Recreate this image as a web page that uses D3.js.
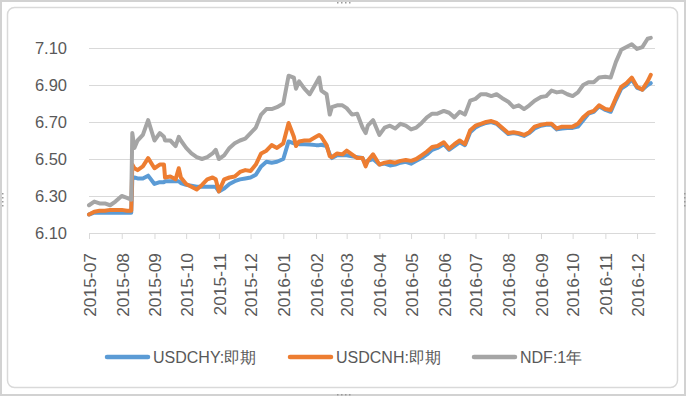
<!DOCTYPE html>
<html>
<head>
<meta charset="utf-8">
<script src="https://cdn.jsdelivr.net/npm/d3@7"></script>
<style>
body { margin: 0; background: #fff; }
svg text { font-family: "Liberation Sans", Arial, sans-serif; fill: #595959; }
</style>
</head>
<body>
<div class="graph"></div>
<script>
// daily-ish samples
const dates = [
  "2015-07-01","2015-07-06","2015-07-11","2015-07-16","2015-07-21","2015-07-26",
  "2015-08-01","2015-08-06","2015-08-10","2015-08-11","2015-08-13","2015-08-16","2015-08-21","2015-08-26",
  "2015-09-01","2015-09-06","2015-09-10","2015-09-11","2015-09-16","2015-09-21","2015-09-24","2015-09-26",
  "2015-10-01","2015-10-06","2015-10-11","2015-10-16","2015-10-21","2015-10-26","2015-10-29",
  "2015-11-01","2015-11-06","2015-11-11","2015-11-16","2015-11-21","2015-11-26",
  "2015-12-01","2015-12-06","2015-12-11","2015-12-16","2015-12-21","2015-12-26",
  "2016-01-01","2016-01-06","2016-01-11","2016-01-13","2016-01-16","2016-01-21","2016-01-26",
  "2016-02-01","2016-02-04","2016-02-06","2016-02-11","2016-02-14","2016-02-16","2016-02-21","2016-02-26",
  "2016-03-01","2016-03-06","2016-03-11","2016-03-16","2016-03-19","2016-03-21","2016-03-26",
  "2016-04-01","2016-04-06","2016-04-11","2016-04-16","2016-04-21","2016-04-26",
  "2016-05-01","2016-05-06","2016-05-11","2016-05-16","2016-05-21","2016-05-26",
  "2016-06-01","2016-06-06","2016-06-11","2016-06-16","2016-06-21","2016-06-26",
  "2016-07-01","2016-07-06","2016-07-11","2016-07-16","2016-07-21","2016-07-26",
  "2016-08-01","2016-08-06","2016-08-11","2016-08-16","2016-08-21","2016-08-26",
  "2016-09-01","2016-09-06","2016-09-11","2016-09-16","2016-09-21","2016-09-26",
  "2016-10-01","2016-10-06","2016-10-11","2016-10-16","2016-10-21","2016-10-26",
  "2016-11-01","2016-11-06","2016-11-11","2016-11-16","2016-11-21","2016-11-26",
  "2016-12-01","2016-12-06","2016-12-11","2016-12-14"
];

const usdchy = [
  6.20,6.21,6.21,6.21,6.21,6.21,
  6.21,6.21,6.21,6.39,6.40,6.395,6.395,6.41,
  6.365,6.375,6.375,6.38,6.38,6.38,6.38,6.37,
  6.36,6.355,6.35,6.35,6.35,6.35,6.35,
  6.325,6.34,6.365,6.38,6.39,6.395,
  6.40,6.415,6.46,6.485,6.48,6.485,
  6.50,6.595,6.585,6.585,6.58,6.58,6.578,
  6.575,6.575,6.577,6.57,6.525,6.505,6.52,6.52,
  6.52,6.515,6.51,6.505,6.47,6.49,6.50,
  6.47,6.475,6.465,6.47,6.48,6.485,
  6.475,6.49,6.505,6.525,6.55,6.56,
  6.58,6.55,6.57,6.59,6.575,6.645,
  6.67,6.685,6.695,6.70,6.69,6.665,
  6.635,6.64,6.635,6.625,6.64,6.665,
  6.68,6.685,6.685,6.66,6.665,6.668,
  6.668,6.675,6.71,6.745,6.755,6.785,
  6.765,6.755,6.82,6.88,6.90,6.93,
  6.885,6.875,6.90,6.91
];

const usdcnh = [
  6.20,6.215,6.22,6.22,6.225,6.225,
  6.225,6.22,6.22,6.47,6.45,6.44,6.46,6.505,
  6.45,6.47,6.47,6.40,6.405,6.39,6.45,6.40,
  6.365,6.35,6.335,6.36,6.39,6.40,6.39,
  6.325,6.39,6.40,6.405,6.43,6.44,
  6.435,6.47,6.53,6.545,6.575,6.56,
  6.585,6.695,6.62,6.57,6.595,6.60,6.60,
  6.62,6.63,6.62,6.575,6.515,6.51,6.53,6.525,
  6.545,6.525,6.505,6.505,6.46,6.49,6.525,
  6.47,6.48,6.485,6.48,6.49,6.495,
  6.49,6.50,6.52,6.54,6.565,6.57,
  6.59,6.555,6.58,6.60,6.58,6.655,
  6.68,6.69,6.70,6.705,6.695,6.67,
  6.64,6.645,6.64,6.63,6.645,6.675,
  6.685,6.69,6.69,6.665,6.675,6.675,
  6.675,6.69,6.725,6.75,6.76,6.79,
  6.77,6.765,6.83,6.89,6.91,6.94,
  6.89,6.875,6.92,6.955
];

const ndf = [
  6.25,6.27,6.26,6.26,6.25,6.27,
  6.30,6.29,6.28,6.64,6.56,6.60,6.63,6.71,
  6.60,6.64,6.62,6.60,6.60,6.57,6.62,6.60,
  6.56,6.53,6.51,6.50,6.51,6.53,6.55,
  6.50,6.52,6.56,6.585,6.60,6.61,
  6.64,6.67,6.74,6.77,6.77,6.78,
  6.80,6.95,6.94,6.88,6.92,6.88,6.85,
  6.91,6.94,6.87,6.85,6.74,6.78,6.79,6.79,
  6.775,6.74,6.745,6.67,6.64,6.68,6.71,
  6.63,6.67,6.68,6.665,6.69,6.68,
  6.66,6.67,6.695,6.725,6.745,6.745,
  6.76,6.75,6.725,6.755,6.74,6.815,
  6.825,6.85,6.85,6.84,6.85,6.83,
  6.81,6.78,6.79,6.77,6.79,6.815,
  6.835,6.84,6.87,6.86,6.865,6.85,
  6.84,6.86,6.90,6.915,6.915,6.94,
  6.945,6.94,7.025,7.09,7.105,7.12,
  7.095,7.105,7.15,7.155
];

const seriesNames = ["USDCHY:即期", "USDCNH:即期", "NDF:1年"];
const seriesColors = ["#5b9bd5", "#ed7d31", "#a5a5a5"];
const yTicks = [6.10, 6.30, 6.50, 6.70, 6.90, 7.10];
const monthTicks = ["2015-07","2015-08","2015-09","2015-10","2015-11","2015-12",
  "2016-01","2016-02","2016-03","2016-04","2016-05","2016-06",
  "2016-07","2016-08","2016-09","2016-10","2016-11","2016-12"];

const w = 687;
const h = 397;
const plotLeft = 89, plotRight = 655, plotTop = 29.5, plotBottom = 233;

const parseDay = d3.timeParse("%Y-%m-%d");
const parseMonth = d3.timeParse("%Y-%m");

const xScale = d3.scaleTime()
                 .domain([parseDay("2015-07-01"), parseDay("2016-12-18")])
                 .range([plotLeft, plotRight]);

const yScale = d3.scaleLinear()
                 .domain([6.1, 7.2])
                 .range([plotBottom, plotTop]);

const svg = d3.select(".graph")
              .append("svg")
              .attr("width", w)
              .attr("height", h);

// outer frame + chart area
svg.append("rect")
   .attr("x", 1).attr("y", 1).attr("width", w - 3).attr("height", h - 3)
   .attr("fill", "#fff").attr("stroke", "#d2d2d2").attr("stroke-width", 2);

svg.append("rect")
   .attr("x", 7.5).attr("y", 7.5).attr("width", 670).attr("height", 380)
   .attr("rx", 7).attr("fill", "#fff").attr("stroke", "#d9d9d9").attr("stroke-width", 1.5);

// little resize handles on the frame
const handles = [[337, 2, 1], [337, 394, 1], [2, 193, 0], [684, 193, 0]];
handles.forEach(([hx, hy, horiz]) => {
  for (let k = 0; k < 4; k++) {
    svg.append("rect")
       .attr("x", horiz ? hx + k * 4 : hx)
       .attr("y", horiz ? hy : hy + k * 4)
       .attr("width", 1.5).attr("height", 1.5)
       .attr("fill", "#9a9a9a");
  }
});

// y gridlines + labels
const yAxis = d3.axisLeft(yScale)
                .tickValues(yTicks)
                .tickSize(-(plotRight - plotLeft))
                .tickPadding(22)
                .tickFormat(d3.format(".2f"));

const gy = svg.append("g")
              .attr("transform", "translate(" + plotLeft + ",0)")
              .call(yAxis);
gy.select(".domain").remove();
gy.selectAll("line").attr("stroke", "#d9d9d9");
gy.selectAll("text").attr("font-size", "16.5px").attr("fill", "#595959");

// x axis
const xAxis = d3.axisBottom(xScale)
                .tickValues(monthTicks.map(parseMonth))
                .tickFormat(d3.timeFormat("%Y-%m"))
                .tickSize(6)
                .tickSizeOuter(0);

const gx = svg.append("g")
              .attr("transform", "translate(0," + plotBottom + ")")
              .call(xAxis);
gx.select(".domain").attr("stroke", "#d9d9d9");
gx.selectAll("line").attr("stroke", "#d9d9d9");
gx.selectAll("text")
  .attr("font-size", "17.4px")
  .attr("fill", "#595959")
  .attr("text-anchor", "end")
  .attr("transform", "rotate(-90)")
  .attr("x", -20)
  .attr("y", 0)
  .attr("dy", "0.36em");

// lines
const allSeries = [usdchy, usdcnh, ndf];
const line = d3.line()
               .x((d, i) => xScale(parseDay(dates[i])))
               .y(d => yScale(d));

allSeries.forEach((vals, s) => {
  svg.append("path")
     .datum(vals)
     .attr("d", line)
     .attr("fill", "none")
     .attr("stroke", seriesColors[s])
     .attr("stroke-width", 4)
     .attr("stroke-linejoin", "round")
     .attr("stroke-linecap", "round");
});

// legend
const legendX = [107, 290, 474];
const legend = svg.append("g");
seriesNames.forEach((name, s) => {
  legend.append("line")
        .attr("x1", legendX[s]).attr("x2", legendX[s] + 41)
        .attr("y1", 357).attr("y2", 357)
        .attr("stroke", seriesColors[s])
        .attr("stroke-width", 4.5)
        .attr("stroke-linecap", "round");
  legend.append("text")
        .attr("x", legendX[s] + 46)
        .attr("y", 357)
        .attr("dy", "0.36em")
        .attr("font-size", "16px")
        .text(name);
});
</script>
</body>
</html>
